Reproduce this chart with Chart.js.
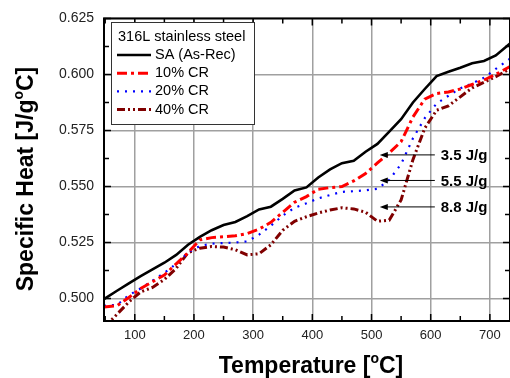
<!DOCTYPE html>
<html lang="en">
<head>
    <meta charset="UTF-8">
    <title>316L Specific Heat</title>
    <script src="https://cdn.jsdelivr.net/npm/chart.js"></script>
    <style>
        html, body { margin: 0; padding: 0; background: #fff; }
        .chart-wrapper { width: 510px; height: 378px; }
    </style>
</head>
<body>
    <div class="chart-wrapper">
        <canvas id="cpChart" width="510" height="378"></canvas>
    </div>

<script>
    // temperatures (°C) where the curves were read
    const temps = [48, 70, 90, 110, 130, 150, 170, 190, 210, 230, 250, 270, 290, 310, 330, 350, 370, 390,
        410, 430, 450, 470, 490, 510, 530, 550, 570, 590, 610, 630, 650, 670, 690, 710, 734];

    const saValues = [0.4998, 0.5035, 0.5068, 0.5100, 0.5130, 0.5160, 0.5195, 0.5240, 0.5275, 0.5305,
        0.5328, 0.5342, 0.5368, 0.5398, 0.5410, 0.5445, 0.5482, 0.5496, 0.5540, 0.5576, 0.5604, 0.5615,
        0.5655, 0.5690, 0.5745, 0.5800, 0.5875, 0.5935, 0.5993, 0.6012, 0.6030, 0.6050, 0.6060, 0.6085, 0.6138];

    const cr10Values = [0.4962, 0.4968, 0.5005, 0.5045, 0.5075, 0.5105, 0.5155, 0.5205, 0.5262, 0.5272,
        0.5276, 0.5280, 0.5290, 0.5310, 0.5340, 0.5385, 0.5430, 0.5455, 0.5488, 0.5495, 0.5500, 0.5525,
        0.5558, 0.5605, 0.5650, 0.5700, 0.5810, 0.5890, 0.5915, 0.5922, 0.5935, 0.5955, 0.5975, 0.6000, 0.6035];

    const cr20Values = [0.4968, 0.4972, 0.5015, 0.5045, 0.5080, 0.5115, 0.5155, 0.5205, 0.5235, 0.5245,
        0.5248, 0.5250, 0.5255, 0.5285, 0.5325, 0.5370, 0.5405, 0.5425, 0.5447, 0.5462, 0.5476, 0.5479,
        0.5483, 0.5490, 0.5530, 0.5600, 0.5715, 0.5805, 0.5870, 0.5905, 0.5938, 0.5960, 0.5985, 0.6025, 0.6070];

    const cr40Values = [0.4870, 0.4930, 0.4985, 0.5030, 0.5050, 0.5085, 0.5135, 0.5205, 0.5225, 0.5232,
        0.5230, 0.5218, 0.5195, 0.5200, 0.5240, 0.5305, 0.5345, 0.5365, 0.5382, 0.5395, 0.5405, 0.5400,
        0.5385, 0.5345, 0.5350, 0.5440, 0.5620, 0.5760, 0.5840, 0.5860, 0.5900, 0.5940, 0.5965, 0.5990, 0.6025];

    const seriesNames = ['SA (As-Rec)', '10% CR', '20% CR', '40% CR'];
    const xTickValues = [50, 100, 150, 200, 250, 300, 350, 400, 450, 500, 550, 600, 650, 700];
    const yTickValues = [0.500, 0.5125, 0.525, 0.5375, 0.550, 0.5625, 0.575, 0.5875, 0.600, 0.6125, 0.625];

    // enthalpy annotations: label, y level, arrow tip / tail / text x (data units)
    const noteLabels = ['3.5 J/g', '5.5 J/g', '8.8 J/g'];
    const noteLevels = [0.5641, 0.5527, 0.5409];
    const noteTip = 514, noteTail = 607, noteText = 617;

    const FONT = "'Liberation Sans', Arial, sans-serif";

    const pts = vals => vals.map((v, i) => ({ x: temps[i], y: v }));
    const isMajorX = v => v % 100 === 0;
    const isMajorY = v => Math.abs(Math.round(v * 1000) % 25) === 0;

    const lineStyles = [
        { color: '#000000', width: 2.6, dash: [] },
        { color: '#ff0000', width: 3, dash: [10, 4, 3, 4] },
        { color: '#0000ff', width: 2.2, dash: [2, 6] },
        { color: '#800000', width: 3, dash: [8, 3, 2, 3, 2, 3] }
    ];
    const allValues = [saValues, cr10Values, cr20Values, cr40Values];

    const decorPlugin = {
        id: 'decor',
        afterDatasetsDraw(chart) {
            const ctx = chart.ctx;
            const a = chart.chartArea;
            const xs = chart.scales.x, ys = chart.scales.y;
            ctx.save();

            // frame
            ctx.strokeStyle = '#000';
            ctx.lineWidth = 2;
            ctx.strokeRect(a.left, a.top, a.right - a.left, a.bottom - a.top);

            // inward ticks
            ctx.lineWidth = 1.5;
            xTickValues.forEach(v => {
                const px = xs.getPixelForValue(v);
                const len = isMajorX(v) ? 7 : 5;
                ctx.beginPath();
                ctx.moveTo(px, a.bottom); ctx.lineTo(px, a.bottom - len);
                ctx.moveTo(px, a.top); ctx.lineTo(px, a.top + len);
                ctx.stroke();
            });
            yTickValues.forEach(v => {
                const py = ys.getPixelForValue(v);
                const len = isMajorY(v) ? 7 : 5;
                ctx.beginPath();
                ctx.moveTo(a.left, py); ctx.lineTo(a.left + len, py);
                ctx.moveTo(a.right, py); ctx.lineTo(a.right - len, py);
                ctx.stroke();
            });

            // legend box
            const lx = 111, ly = 22, lw = 143, lh = 102;
            ctx.fillStyle = '#fff';
            ctx.fillRect(lx, ly, lw, lh);
            ctx.strokeStyle = '#333';
            ctx.lineWidth = 1;
            ctx.strokeRect(lx + 0.5, ly + 0.5, lw, lh);
            ctx.fillStyle = '#000';
            ctx.font = `14.5px ${FONT}`;
            ctx.textBaseline = 'middle';
            ctx.textAlign = 'left';
            ctx.fillText('316L stainless steel', 118, 37);
            seriesNames.forEach((name, i) => {
                const yy = 55 + i * 18.2;
                const st = lineStyles[i];
                ctx.beginPath();
                ctx.strokeStyle = st.color;
                ctx.lineWidth = st.width;
                ctx.setLineDash(st.dash);
                ctx.moveTo(117, yy); ctx.lineTo(151, yy);
                ctx.stroke();
                ctx.setLineDash([]);
                ctx.fillStyle = '#000';
                ctx.fillText(name, 155, yy);
            });

            // annotations with arrows
            ctx.strokeStyle = '#000';
            ctx.fillStyle = '#000';
            ctx.lineWidth = 1;
            ctx.font = `bold 15px ${FONT}`;
            noteLabels.forEach((lab, i) => {
                const py = ys.getPixelForValue(noteLevels[i]);
                const tip = xs.getPixelForValue(noteTip);
                const tail = xs.getPixelForValue(noteTail);
                ctx.beginPath();
                ctx.moveTo(tail, py); ctx.lineTo(tip + 6, py);
                ctx.stroke();
                ctx.beginPath();
                ctx.moveTo(tip, py);
                ctx.lineTo(tip + 8, py - 3);
                ctx.lineTo(tip + 8, py + 3);
                ctx.closePath();
                ctx.fill();
                ctx.fillText(lab, xs.getPixelForValue(noteText), py + 1);
            });

            // axis titles with superscript o
            const drawSup = (parts, x, y) => {
                ctx.font = `bold 23px ${FONT}`;
                const w1 = ctx.measureText(parts[0]).width;
                const w3 = ctx.measureText(parts[2]).width;
                ctx.font = `bold 14px ${FONT}`;
                const w2 = ctx.measureText(parts[1]).width;
                const x0 = x - (w1 + w2 + w3) / 2;
                ctx.textAlign = 'left';
                ctx.textBaseline = 'alphabetic';
                ctx.font = `bold 23px ${FONT}`;
                ctx.fillText(parts[0], x0, y);
                ctx.font = `bold 14px ${FONT}`;
                ctx.fillText(parts[1], x0 + w1, y - 10);
                ctx.font = `bold 23px ${FONT}`;
                ctx.fillText(parts[2], x0 + w1 + w2, y);
            };
            drawSup(['Temperature [', 'o', 'C]'], 311, 373);
            ctx.translate(33, 179);
            ctx.rotate(-Math.PI / 2);
            drawSup(['Specific Heat [J/g', 'o', 'C]'], 0, 0);

            ctx.restore();
        }
    };

    const cpChart = new Chart(document.getElementById('cpChart').getContext('2d'), {
        type: 'line',
        data: {
            datasets: allValues.map((vals, i) => ({
                label: seriesNames[i],
                data: pts(vals),
                borderColor: lineStyles[i].color,
                borderWidth: lineStyles[i].width,
                borderDash: lineStyles[i].dash,
                pointRadius: 0,
                tension: 0,
                fill: false
            }))
        },
        options: {
            responsive: false,
            animation: false,
            layout: { padding: { top: 16, right: 0, left: 0, bottom: 0 } },
            plugins: { legend: { display: false }, tooltip: { enabled: false } },
            scales: {
                x: {
                    type: 'linear',
                    min: 48, max: 734,
                    afterBuildTicks: s => { s.ticks = xTickValues.map(v => ({ value: v })); },
                    afterFit: s => { s.height = 57; },
                    ticks: {
                        autoSkip: false, maxRotation: 0, padding: 7,
                        color: '#222', font: { family: FONT, size: 13 },
                        callback: v => isMajorX(v) ? String(v) : ''
                    },
                    grid: {
                        drawTicks: false,
                        lineWidth: 1.5,
                        color: c => isMajorX(c.tick.value) ? '#a0a0a0' : 'rgba(0,0,0,0)'
                    },
                    border: { display: false }
                },
                y: {
                    min: 0.49, max: 0.625,
                    afterBuildTicks: s => { s.ticks = yTickValues.map(v => ({ value: v })); },
                    afterFit: s => { s.width = 104; },
                    ticks: {
                        autoSkip: false, padding: 10,
                        color: '#222', font: { family: FONT, size: 14 },
                        callback: v => isMajorY(v) ? v.toFixed(3) : ''
                    },
                    grid: {
                        drawTicks: false,
                        lineWidth: 1.5,
                        color: c => isMajorY(c.tick.value) ? '#a0a0a0' : 'rgba(0,0,0,0)'
                    },
                    border: { display: false }
                }
            }
        },
        plugins: [decorPlugin]
    });
</script>
</body>
</html>
